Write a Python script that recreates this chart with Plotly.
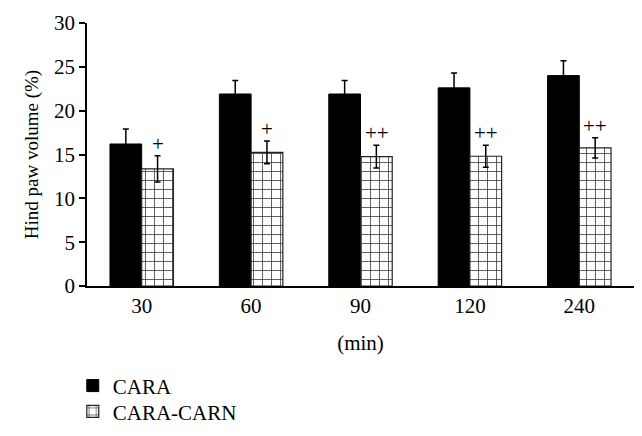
import plotly.graph_objects as go

# time points (min)
times = ["30", "60", "90", "120", "240"]

# hind paw volume (%) and SEM
cara = [16.2, 21.9, 21.9, 22.6, 24.0]
cara_err = [1.7, 1.55, 1.55, 1.7, 1.7]
cara_carn = [13.35, 15.25, 14.75, 14.8, 15.75]
cara_carn_err = [1.5, 1.3, 1.3, 1.25, 1.15]

# significance marks over CARA-CARN
marks = ["+", "+", "++", "++", "++"]

FONT = "Liberation Serif"

fig = go.Figure()
fig.add_trace(go.Bar(
    x=times, y=cara, name="CARA", legend="legend",
    marker=dict(color="black", line=dict(color="black", width=1)),
    error_y=dict(type="data", array=cara_err, color="black", thickness=1.5, width=3),
))
fig.add_trace(go.Bar(
    x=times, y=cara_carn, name="CARA-CARN", legend="legend2",
    marker=dict(
        color="white",
        line=dict(color="#222222", width=1.2),
        pattern=dict(shape="+", size=9, solidity=0.18, fgcolor="#444444", bgcolor="white"),
    ),
    error_y=dict(type="data", array=cara_carn_err, color="black", thickness=1.5, width=3),
))

# "+" marks sit just above the CARA-CARN error bars
for i, (v, e, m) in enumerate(zip(cara_carn, cara_carn_err, marks)):
    fig.add_annotation(
        x=i, y=v + e, text=m, showarrow=False, xshift=16, yshift=12,
        yanchor="middle", font=dict(family=FONT, size=21, color="black"),
    )

# one legend per entry so the rows can sit closer than the default spacing
leg = dict(orientation="v", x=-0.026, xanchor="left", yanchor="middle",
           font=dict(family=FONT, size=21), bgcolor="rgba(0,0,0,0)")

fig.update_layout(
    template="none",
    width=642, height=436,
    margin=dict(l=79, r=16, t=15, b=147),
    plot_bgcolor="white", paper_bgcolor="white",
    barmode="group", bargap=0.42, bargroupgap=0,
    font=dict(family=FONT, size=21, color="black"),
    showlegend=True,
    legend=dict(leg, y=-0.38),
    legend2=dict(leg, y=-0.478),
)
fig.update_xaxes(
    type="category", range=[-0.5, 4.5],
    showline=True, linecolor="black", linewidth=1.5,
    ticks="", showgrid=False, zeroline=False,
    tickfont=dict(family=FONT, size=21),
    title=dict(text="(min)", font=dict(family=FONT, size=21), standoff=18),
)
fig.update_yaxes(
    range=[0, 30], dtick=5,
    showline=True, linecolor="black", linewidth=1.5,
    ticks="outside", ticklen=6, tickwidth=1.5, tickcolor="black",
    showgrid=False, zeroline=False,
    tickfont=dict(family=FONT, size=21),
    title=dict(text="Hind paw volume (%)", font=dict(family=FONT, size=19), standoff=10),
)

fig.write_html("out.html")
